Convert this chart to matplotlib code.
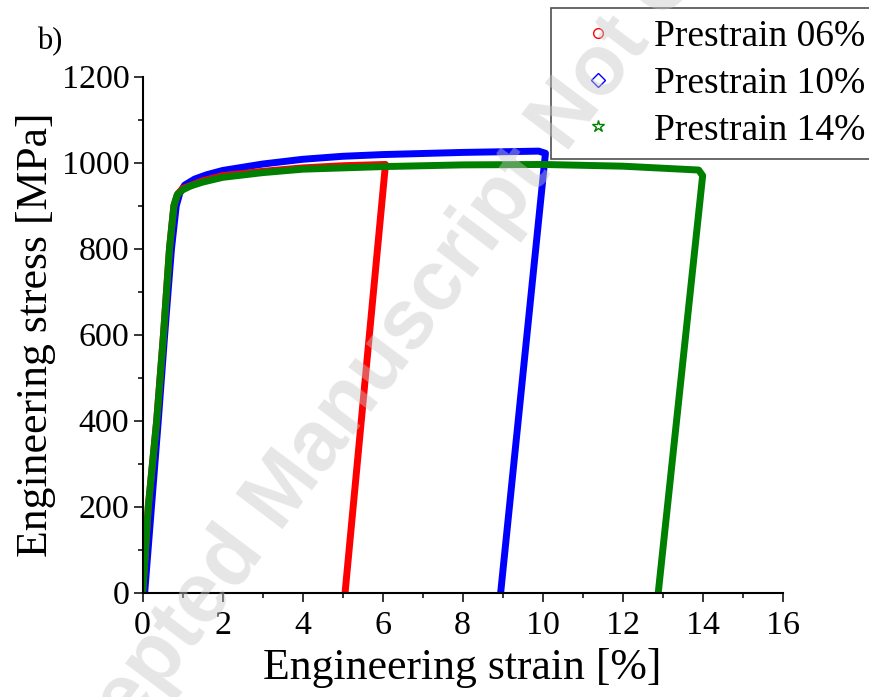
import matplotlib.pyplot as plt
from matplotlib.lines import Line2D
from matplotlib.ticker import MultipleLocator

plt.rcParams['font.family'] = 'Liberation Serif'

# strain [%], stress [MPa]
strain_06 = [0, 0.14, 0.35, 0.52, 0.67, 0.78, 0.88, 1.0, 1.5, 2, 3, 4, 5, 6.07, 5.06]
stress_06 = [0, 200, 400, 600, 800, 900, 928, 940, 958, 970, 980, 988, 993, 996, 0]

strain_10 = [0.05, 0.22, 0.39, 0.55, 0.72, 0.84, 0.93, 1.05, 1.3, 1.6, 2, 3, 4, 5, 6, 8, 9.9, 10.07, 8.95]
stress_10 = [0, 200, 400, 600, 800, 900, 930, 948, 962, 972, 982, 997, 1008, 1015, 1019, 1024, 1027, 1022, 0]

strain_14 = [0, 0.14, 0.35, 0.52, 0.67, 0.78, 0.86, 1.0, 1.2, 1.5, 2, 3, 4, 6, 8, 10, 12, 13.9, 14.0, 12.89]
stress_14 = [0, 200, 400, 600, 800, 900, 925, 937, 946, 955, 966, 977, 985, 991, 995, 996, 992, 983, 970, 0]

labels = ['Prestrain 06%', 'Prestrain 10%', 'Prestrain 14%']
colors = ['red', 'blue', 'green']
markers = ['o', 'D', '*']

fig = plt.figure(figsize=(8.7, 6.97), dpi=100)
ax = fig.add_axes([0.164, 0.1496, 0.7356, 0.7403])

ax.plot(strain_10, stress_10, color='blue', lw=5, solid_joinstyle='round', solid_capstyle='round')
ax.plot(strain_06, stress_06, color='red', lw=5, solid_joinstyle='round', solid_capstyle='round')
ax.plot(strain_14, stress_14, color='green', lw=5, solid_joinstyle='round', solid_capstyle='round')

ax.set_xlim(0, 16)
ax.set_ylim(0, 1200)
ax.xaxis.set_major_locator(MultipleLocator(2))
ax.xaxis.set_minor_locator(MultipleLocator(1))
ax.yaxis.set_major_locator(MultipleLocator(200))
ax.yaxis.set_minor_locator(MultipleLocator(100))
for s in ['top', 'right']:
    ax.spines[s].set_visible(False)
for s in ['left', 'bottom']:
    ax.spines[s].set_linewidth(1.5)
ax.tick_params(which='major', direction='out', length=6.5, width=1.1, labelsize=24.5, pad=3)
ax.tick_params(axis='x', which='major', pad=6)
ax.tick_params(which='minor', direction='out', length=3.8, width=1.1)

ax.set_xlabel('Engineering strain [%]', fontsize=31.5, labelpad=5)
ax.set_ylabel('Engineering stress [MPa]', fontsize=31.5, labelpad=4)

handles = [Line2D([], [], ls='none', marker=m, mfc='none', mec=c, ms=s, mew=1)
           for m, c, s in zip(markers, colors, [7, 7, 9])]
leg = fig.legend(handles, labels, loc='upper left', bbox_to_anchor=(0.633, 0.9885),
                 borderaxespad=0, fontsize=27, frameon=True, fancybox=False,
                 edgecolor='#222222', handletextpad=0.51, labelspacing=0.33,
                 borderpad=0.3, handlelength=1.94)
leg.get_frame().set_linewidth(1.2)

fig.text(0.043, 0.93, 'b)', fontsize=22)

# watermark over the plot
fig.text(0.0425, -0.228, 'Accepted Manuscript Not Copyedited', fontsize=61,
         family='Liberation Sans', weight='bold', color=(0.78, 0.78, 0.78), alpha=0.45,
         rotation=53, rotation_mode='anchor', ha='left', va='baseline', zorder=10)

fig.savefig('out.png', dpi=100)
